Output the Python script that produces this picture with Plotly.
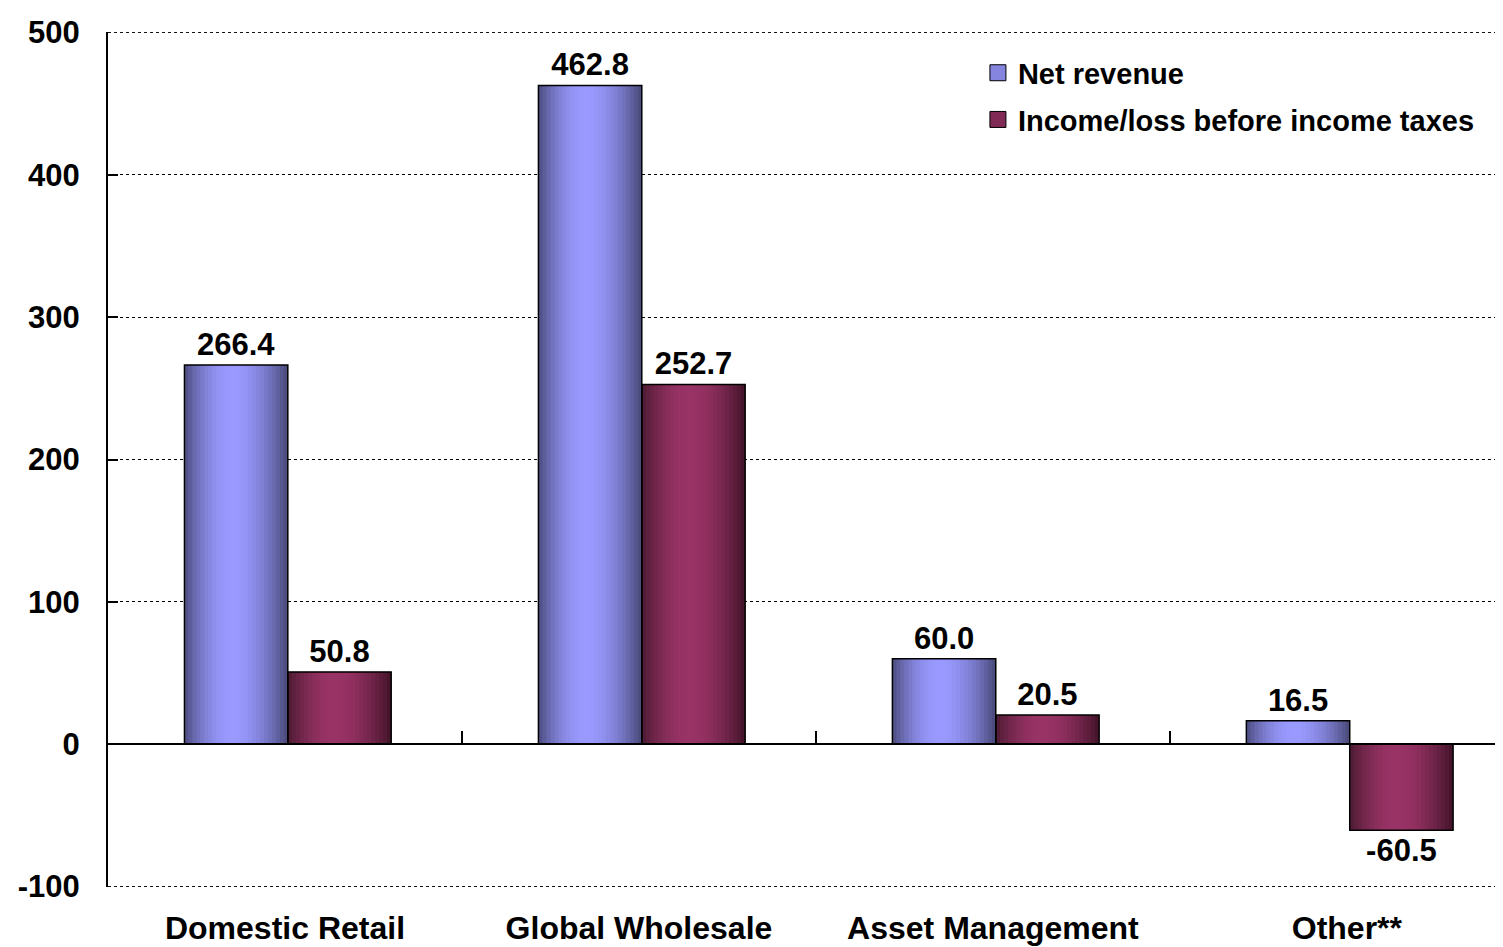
import math
import plotly.graph_objects as go

categories = ["Domestic Retail", "Global Wholesale", "Asset Management", "Other**"]
net_revenue = [266.4, 462.8, 60.0, 16.5]
income_before_tax = [50.8, 252.7, 20.5, -60.5]
series_names = ["Net revenue", "Income/loss before income taxes"]
y_ticks = [-100, 0, 100, 200, 300, 400, 500]
y_tick_text = ["-100", "0", "100", "200", "300", "400", "500"]

FONT = "Liberation Sans, Arial, sans-serif"

# gradient colours (left edge, peak, right edge) and mid colour for legend
blue_grad = ((0x4b, 0x4b, 0x7d), (0x99, 0x99, 0xff), (0x47, 0x47, 0x75))
maroon_grad = ((0x4a, 0x1a, 0x30), (0x99, 0x33, 0x66), (0x3f, 0x13, 0x26))
blue_mid = "#8585e0"
maroon_mid = "#802a55"

W = 0.292
offsets = [-0.284, 0.008]
N = 26
PEAK = 0.45


def grad_color(grad, t):
    left, peak, right = grad
    if t <= PEAK:
        d = (PEAK - t) / PEAK
        edge = left
    else:
        d = (t - PEAK) / (1 - PEAK)
        edge = right
    w = math.cos(d * math.pi / 2) ** 0.9
    c = [round(edge[k] + (peak[k] - edge[k]) * w) for k in range(3)]
    return f"rgb({c[0]},{c[1]},{c[2]})"


fig = go.Figure()

series = [(net_revenue, blue_grad, blue_mid), (income_before_tax, maroon_grad, maroon_mid)]

# legend entries (square markers)
for idx, ((vals, grad, mid), name) in enumerate(zip(series, series_names)):
    fig.add_trace(go.Scatter(
        x=[None], y=[None], name=name, mode="markers",
        legendgroup=f"g{idx}",
        marker=dict(symbol="square", size=20, color=mid, line=dict(color="black", width=1)),
        hoverinfo="skip", showlegend=True,
    ))

# gradient strips
for (vals, grad, mid), off in zip(series, offsets):
    step = W / N
    for i in range(N):
        t = (i + 0.5) / N
        sw = min(step * 1.6, W - i * step)
        fig.add_trace(go.Bar(
            x=categories, y=vals, offset=off + i * step, width=sw,
            marker=dict(color=grad_color(grad, t), line=dict(width=0)),
            hoverinfo="skip", showlegend=False,
        ))

# outlines and value labels
for (vals, grad, mid), off in zip(series, offsets):
    fig.add_trace(go.Bar(
        x=categories, y=vals, offset=off, width=W,
        marker=dict(color="rgba(0,0,0,0)", line=dict(color="black", width=1.5)),
        text=[f"{v:.1f}" for v in vals], textposition="outside",
        textfont=dict(family=FONT, size=31, color="black", weight="bold"),
        cliponaxis=False, hoverinfo="skip", showlegend=False,
    ))

# invisible trace for bottom category axis
fig.add_trace(go.Scatter(
    x=categories, y=[0] * len(categories), xaxis="x2", mode="markers",
    marker=dict(opacity=0), hoverinfo="skip", showlegend=False,
))

x_range = [-0.5, 3.441]

# dotted gridlines at the two range ends (plotly omits them at the edges)
for yv in (y_ticks[0], y_ticks[-1]):
    fig.add_shape(type="line", xref="paper", yref="y", x0=0, x1=1, y0=yv, y1=yv,
                  line=dict(color="black", width=1, dash="dot"), layer="below")

# the page body adds an 8px offset, so the figure is sized to fit after it
fig.update_layout(
    width=1495, height=939,
    margin=dict(l=100, r=0, t=24, b=60, autoexpand=False),
    paper_bgcolor="white", plot_bgcolor="white",
    barmode="overlay",
    font=dict(family=FONT, size=30, color="black", weight="bold"),
    showlegend=True,
    legend=dict(
        x=0.6236, y=0.982, xanchor="left", yanchor="top",
        bgcolor="rgba(0,0,0,0)", traceorder="grouped",
        font=dict(family=FONT, size=29, color="black", weight="bold"),
        itemwidth=30, tracegroupgap=6,
    ),
    xaxis=dict(
        type="category", categoryorder="array", categoryarray=categories,
        range=x_range, anchor="free", position=100.3 / 600.6,
        showline=True, linecolor="black", linewidth=2,
        ticks="inside", tickson="boundaries", ticklen=12, tickwidth=2, tickcolor="black",
        showticklabels=False, showgrid=False, zeroline=False, automargin=False,
    ),
    xaxis2=dict(
        type="category", categoryorder="array", categoryarray=categories,
        range=x_range, overlaying="x", anchor="y", side="bottom",
        showline=False, ticks="", showgrid=False, zeroline=False,
        showticklabels=True, ticklabelstandoff=19, automargin=False,
        tickfont=dict(family=FONT, size=32, color="black", weight="bold"),
    ),
    yaxis=dict(
        range=[-100.3, 500.3], tickvals=y_ticks, ticktext=y_tick_text,
        showline=True, linecolor="black", linewidth=2,
        ticks="inside", ticklen=10, tickwidth=2, tickcolor="black",
        showgrid=True, gridcolor="black", gridwidth=1, griddash="dot",
        zeroline=True, zerolinecolor="black", zerolinewidth=2,
        ticklabelstandoff=20, automargin=False,
        tickfont=dict(family=FONT, size=31, color="black", weight="bold"),
    ),
)

fig.write_html("out.html")
